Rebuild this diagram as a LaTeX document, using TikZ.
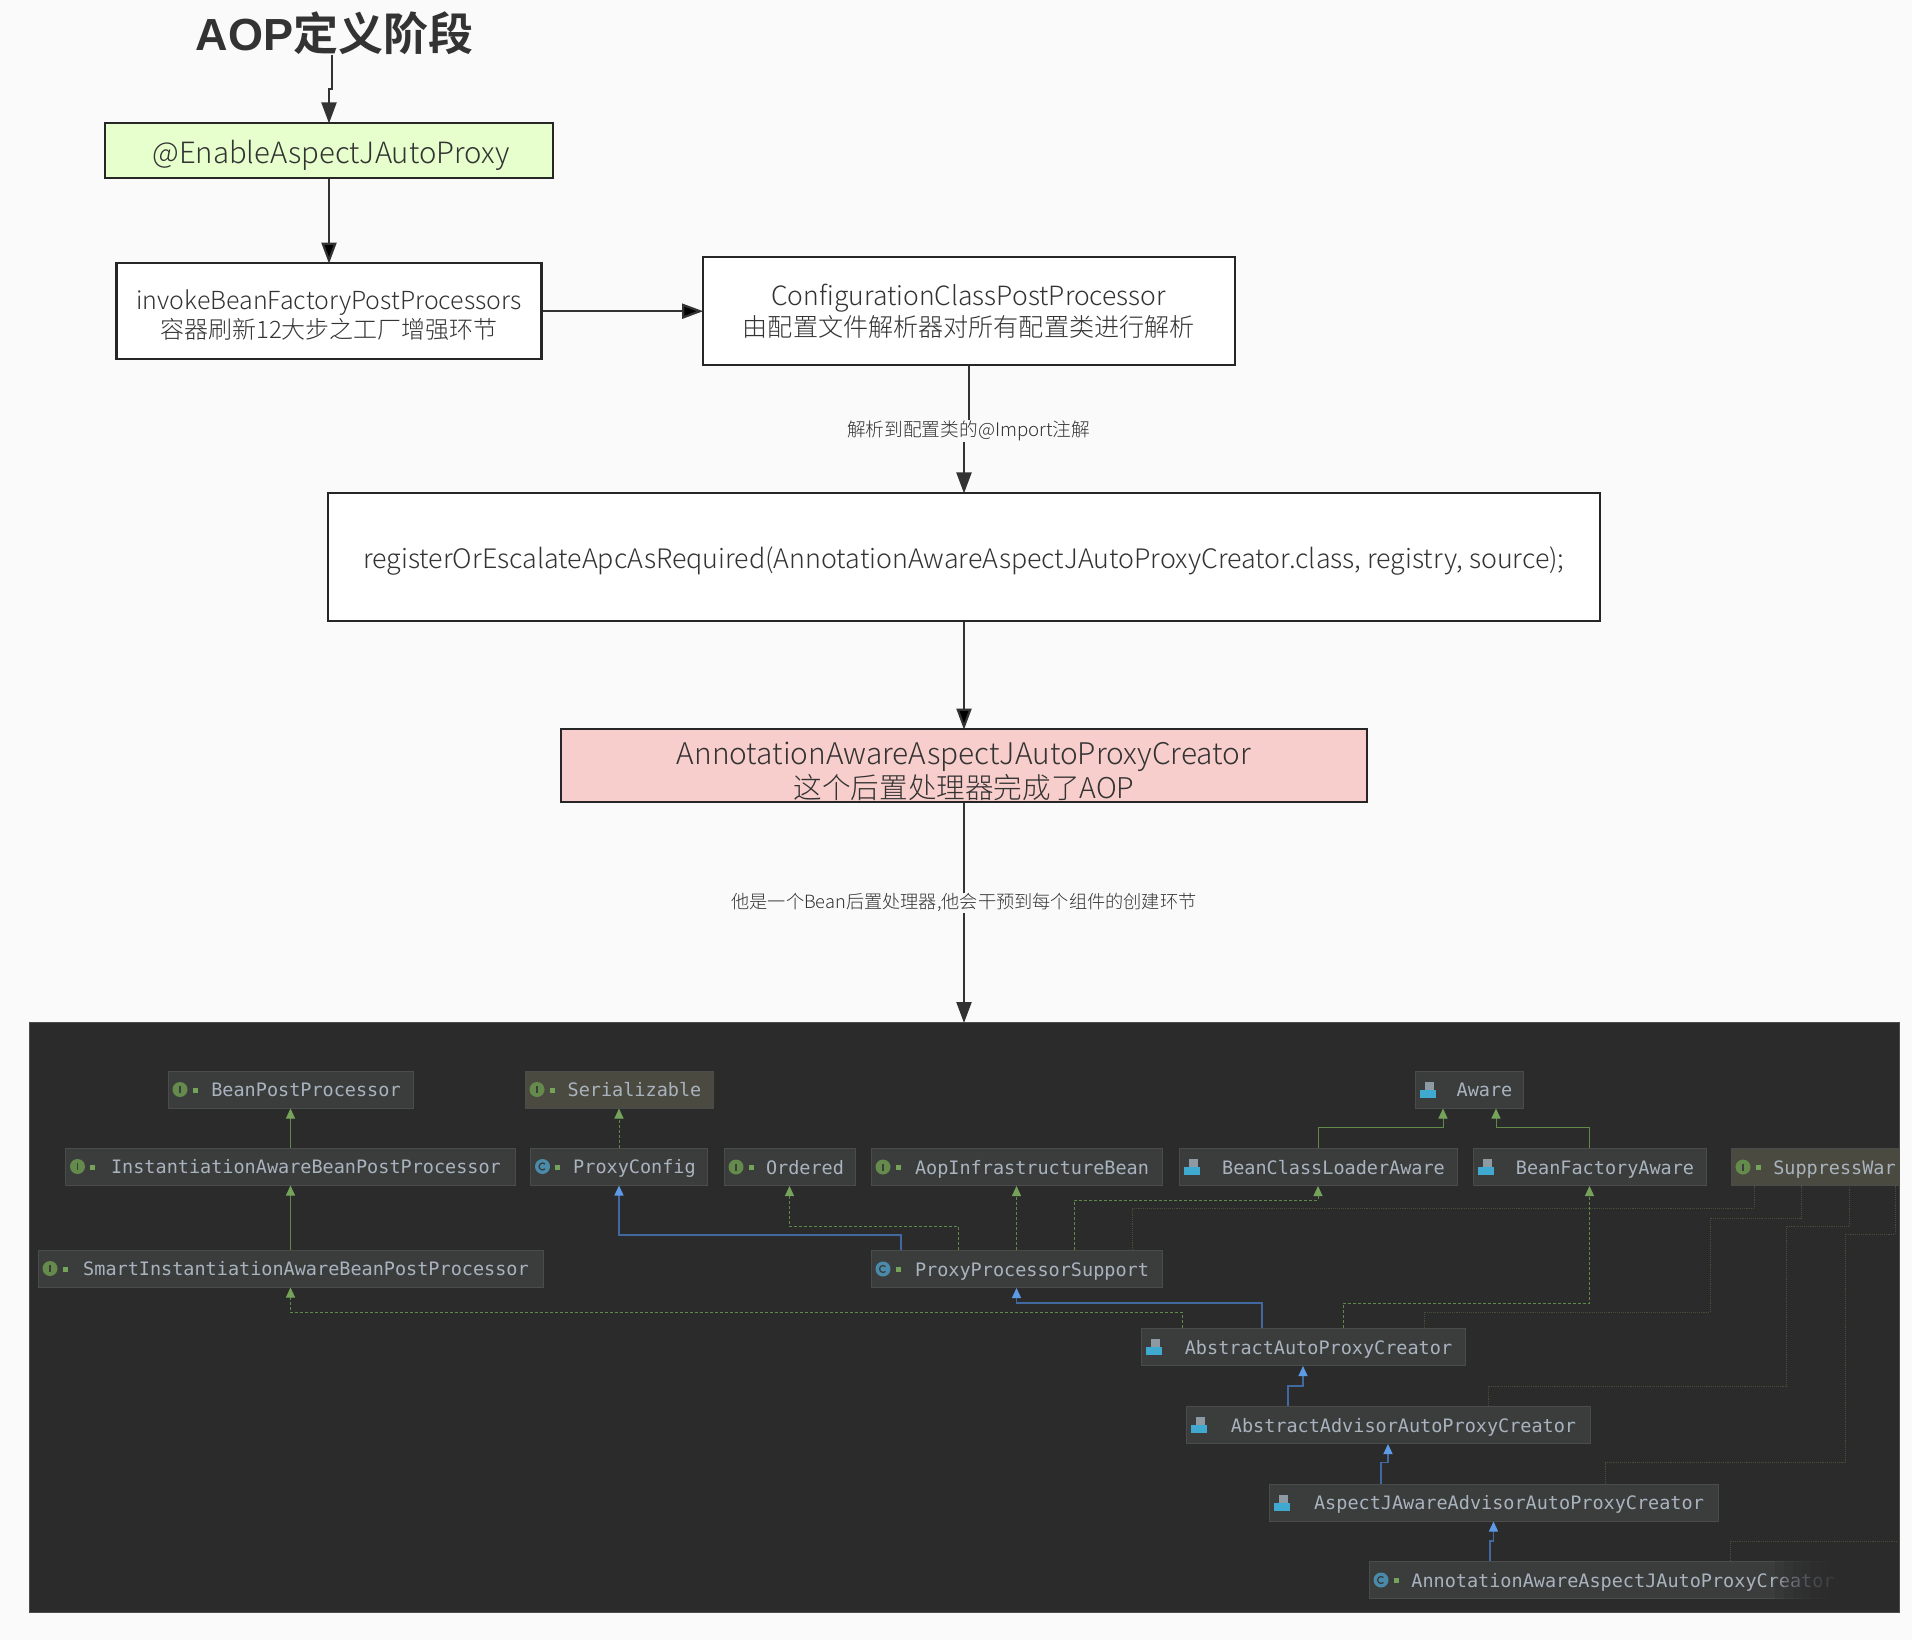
\documentclass[tikz,border=0pt]{standalone}
\usepackage{fontspec}
\setmainfont{Noto Sans CJK SC Light}[BoldFont=Noto Sans CJK SC Bold]
\setmonofont{DejaVu Sans Mono}
\newfontfamily\titlelat{Liberation Sans}
\usetikzlibrary{positioning,arrows.meta}
\newcommand{\sz}[1]{\fontsize{#1pt}{#1pt}\selectfont}
\definecolor{pagebg}{HTML}{FAFAFA}
\definecolor{inkgray}{HTML}{333333}
\definecolor{greenfill}{HTML}{E6FFCC}
\definecolor{pinkfill}{HTML}{F8CECC}
\definecolor{panelbg}{HTML}{2B2B2B}
\definecolor{umlfill}{HTML}{3B3D3D}
\definecolor{umlline}{HTML}{4A4C4C}
\definecolor{brownfill}{HTML}{4B4A40}
\definecolor{umltext}{HTML}{A9B3BE}
\definecolor{linkgreen}{HTML}{5F8A4A}
\definecolor{tipgreen}{HTML}{76A35A}
\definecolor{fadegreen}{HTML}{45503A}
\definecolor{linkblue}{HTML}{41699F}
\definecolor{tipblue}{HTML}{5E9BE6}
\definecolor{iconteal}{HTML}{4A8BAB}
\definecolor{iconsky}{HTML}{3FA9D0}
\definecolor{icongray}{HTML}{8E9AA3}
\tikzset{
flowbox/.style={draw=black!85,line width=2.2pt,fill=white,text=inkgray,align=center,inner sep=0pt},
flowarrow/.style={draw=inkgray,line width=2.2pt,shorten >=-1.5pt,-{Triangle[length=21pt,width=15pt]}},
flownote/.style={fill=pagebg,text=inkgray,inner sep=1pt},
umlbox/.style={draw=umlline,line width=1pt,fill=umlfill,text=umltext,inner sep=0pt,minimum height=37pt,
  text height=18pt,text depth=4pt,
  font=\ttfamily\sz{18.5},execute at begin node={\hspace*{31pt}}},
extends/.style={draw=linkgreen,line width=1pt,-{Triangle[length=10pt,width=9pt,color=tipgreen]}},
implements/.style={extends,densely dashed},
inherits/.style={draw=linkblue,line width=1.3pt,-{Triangle[length=10pt,width=9pt,color=tipblue]}},
fadelink/.style={draw=fadegreen,line width=.9pt,densely dotted},
pics/ifaceicon/.style={code={
  \fill[tipgreen!85!black] (12.5,0) circle (7.5);
  \draw[umlfill,line width=1.6pt] (12.5,-3.5) -- (12.5,3.5);
  \fill[tipgreen] (25,-2) rectangle (30,3);
}},
pics/classicon/.style={code={
  \fill[iconteal] (12.5,0) circle (7.5);
  \draw[umlfill,line width=1.3pt] (15,-2.5) arc[start angle=-45,end angle=-315,radius=3.5];
  \fill[tipgreen] (25,-2) rectangle (30,3);
}},
pics/absicon/.style={code={
  \fill[icongray] (10,-8) rectangle (19,0);
  \fill[iconsky] (5,0) rectangle (21,8);
}},
}

\begin{document}
\begin{tikzpicture}[x=1pt,y=-1pt]

    \path[use as bounding box,fill=pagebg] (0,0) rectangle (1912,1640);

    % upper flow
    \node[font=\bfseries\sz{45},text=inkgray,inner sep=0pt] (title) at (334.5,33) {{\titlelat AOP}定义阶段};
    \node[flowbox,fill=greenfill,minimum width=448pt,minimum height=55pt,font=\sz{29.3},text height=26pt,text depth=0pt] (green) at (329,150.5) {\hspace*{4pt}@EnableAspectJAutoProxy};
    \node[flowbox,minimum width=425pt,minimum height=96pt,below=83pt of green] (invoke) {\rule{0pt}{27pt}\sz{24.9}invokeBeanFactoryPostProcessors\\[2pt]\sz{24}容器刷新12大步之工厂增强环节};
    \node[flowbox,minimum width=532pt,minimum height=108pt,right=159pt of invoke] (config) {\sz{26.5}ConfigurationClassPostProcessor\\[3pt]\sz{25.1}由配置文件解析器对所有配置类进行解析};
    \node[flowbox,minimum width=1272pt,minimum height=128pt,font=\sz{26.8},text height=22pt,text depth=0pt] (register) at (964,557) {registerOrEscalateApcAsRequired(AnnotationAwareAspectJAutoProxyCreator.class, registry, source);};
    \node[flowbox,fill=pinkfill,minimum width=806pt,minimum height=73pt,below=106pt of register] (creator) {\rule{0pt}{34pt}\sz{29.8}AnnotationAwareAspectJAutoProxyCreator\\[2pt]\sz{28.6}这个后置处理器完成了AOP};

    \node[fill=panelbg,draw=black!70,line width=1pt,minimum width=1870pt,minimum height=590pt,inner sep=0pt] (panel) at (964,1317) {};

    \draw[flowarrow] ([xshift=-2.5pt]title.south) -- ++(0,34) -| (green.north);
    \draw[flowarrow] (green) edge (invoke);
    \draw[flowarrow] (invoke) edge (config);
    \draw[flowarrow] (config.south) -- ++(0,65) node[flownote,font=\sz{18.7}] (notea) {解析到配置类的@Import注解} -| (register.north);
    \draw[flowarrow] (register) edge (creator);
    \draw[flowarrow] (creator) -- node[flownote,pos=.456,font=\sz{18.2}] (noteb) {他是一个Bean后置处理器,他会干预到每个组件的创建环节} (panel);

    % class diagram
    \node[umlbox,minimum width=245pt] (bpp) at (290.5,1089.5) {BeanPostProcessor};
    \node[umlbox,minimum width=450pt,below=39pt of bpp] (inst) {InstantiationAwareBeanPostProcessor};
    \node[umlbox,minimum width=505pt,below=64pt of inst] (smart) {SmartInstantiationAwareBeanPostProcessor};
    \node[umlbox,fill=brownfill,minimum width=188pt] (serial) at (619,1089.5) {Serializable};
    \node[umlbox,minimum width=177pt,below=39pt of serial] (proxycfg) {ProxyConfig};
    \node[umlbox,minimum width=131pt] (ordered) at (789.5,1167) {Ordered};
    \node[umlbox,minimum width=291pt] (aop) at (1016.5,1167) {AopInfrastructureBean};
    \node[umlbox,minimum width=291pt,below=64pt of aop] (support) {ProxyProcessorSupport};
    \node[umlbox,minimum width=108pt] (aware) at (1469,1089.5) {Aware};
    \node[umlbox,minimum width=278pt] (loader) at (1318,1167) {BeanClassLoaderAware};
    \node[umlbox,minimum width=233pt] (factory) at (1589.5,1167) {BeanFactoryAware};
    \node[umlbox,fill=brownfill,minimum width=168pt] (suppress) at (1815,1167) {\hspace*{8pt}SuppressWar};
    \node[umlbox,minimum width=324pt] (autoproxy) at (1303,1347) {AbstractAutoProxyCreator};
    \node[umlbox,minimum width=404pt] (advisor) at (1388,1425) {AbstractAdvisorAutoProxyCreator};
    \node[umlbox,minimum width=449pt] (aspectj) at (1493.5,1502.5) {AspectJAwareAdvisorAutoProxyCreator};
    \node[umlbox,minimum width=491pt] (annotation) at (1614.5,1580) {AnnotationAwareAspectJAutoProxyCreator\hspace*{14pt}};

    \foreach \n in {bpp,inst,smart,serial,ordered,aop,suppress}
        \pic at (\n.west) {ifaceicon};
    \foreach \n in {proxycfg,support,annotation}
        \pic at (\n.west) {classicon};
    \foreach \n in {aware,loader,factory,autoproxy,advisor,aspectj}
        \pic at (\n.west) {absicon};

    \draw[extends] (inst) edge (bpp);
    \draw[extends] (smart) edge (inst);
    \draw[implements] (proxycfg) edge (serial);
    \draw[implements] (support) edge (aop);
    \draw[extends] (loader.north) -- ++(0,-21) -| ([xshift=-26pt]aware.south);
    \draw[extends] (factory.north) -- ++(0,-21) -| ([xshift=27pt]aware.south);

    \draw[inherits] ([xshift=-115.5pt]support.north) -- ++(0,-15) -| (proxycfg.south);
    \draw[implements] ([xshift=-58.5pt]support.north) -- ++(0,-24) -| (ordered.south);
    \draw[implements] ([xshift=57.5pt]support.north) -- ++(0,-50) -| (loader.south);
    \draw[fadelink] ([xshift=115.5pt]support.north) -- ++(0,-42) -| ([xshift=-61pt]suppress.south);

    \draw[inherits] ([xshift=-41pt]autoproxy.north) -- ++(0,-25) -| (support.south);
    \draw[implements] ([xshift=-121pt]autoproxy.north) -- ++(0,-16) -| (smart.south);
    \draw[implements] ([xshift=40pt]autoproxy.north) -- ++(0,-25) -| (factory.south);
    \draw[fadelink] ([xshift=121pt]autoproxy.north) -- ++(0,-16) -| (1710,1218) -| ([xshift=-14pt]suppress.south);

    \draw[inherits] ([xshift=-100pt]advisor.north) -- ++(0,-20) -| (autoproxy.south);
    \draw[fadelink] ([xshift=100pt]advisor.north) -- ++(0,-20) -| (1786,1226) -| ([xshift=34pt]suppress.south);

    \draw[inherits] ([xshift=-112.5pt]aspectj.north) -- ++(0,-21) -| (advisor.south);
    \draw[fadelink] ([xshift=111.5pt]aspectj.north) -- ++(0,-21) -| (1845,1234) -| ([xshift=80pt]suppress.south);

    \draw[inherits] ([xshift=-124.5pt]annotation.north) -- ++(0,-20) -| (aspectj.south);
    \coordinate (offpanel) at (1898,1541);
    \draw[fadelink] ([xshift=115.5pt]annotation.north) |- (offpanel);

    % right end of the last box dissolves into the panel
    \foreach \i in {0,...,9}
        \fill[panelbg,opacity=.25] (1775+9*\i,1556) rectangle (1868,1604);

\end{tikzpicture}
\end{document}
